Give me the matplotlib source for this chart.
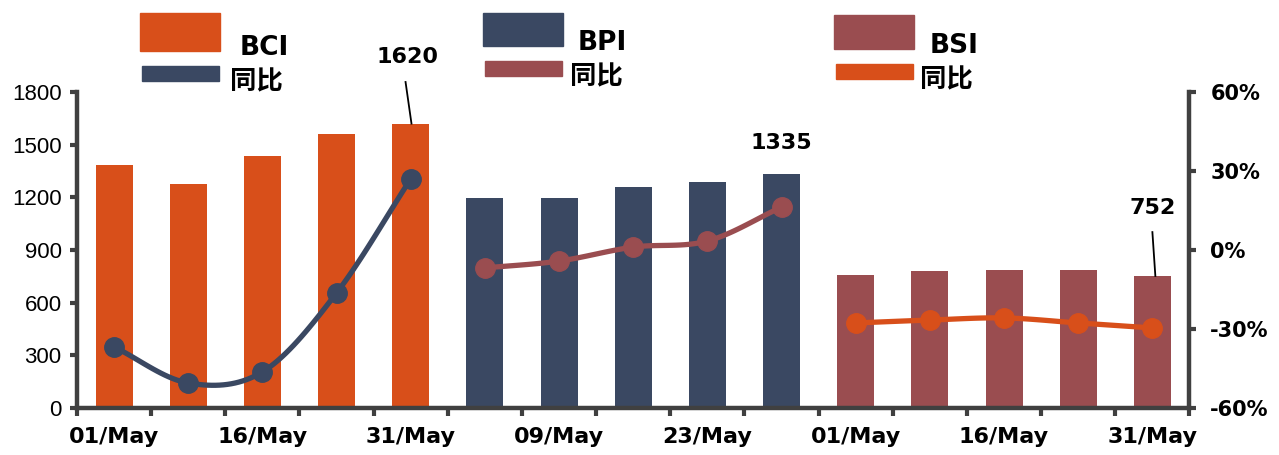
import numpy as np
import matplotlib.pyplot as plt
from matplotlib.patches import Rectangle

plt.rcParams['font.family'] = ['DejaVu Sans', 'Noto Sans CJK SC']

# data
groups = ['BCI', 'BPI', 'BSI']
bci = [1385, 1275, 1435, 1560, 1620]
bpi = [1195, 1195, 1258, 1287, 1335]
bsi = [757, 780, 786, 786, 752]
bci_yoy = [-36.8, -50.5, -46.3, -16.3, 27.0]
bpi_yoy = [-6.8, -4.2, 1.1, 3.4, 16.3]
bsi_yoy = [-27.7, -26.6, -25.8, -27.7, -29.6]
tick_pos = [0, 2, 4, 6, 8, 10, 12, 14]
tick_labels = ['01/May', '16/May', '31/May', '09/May', '23/May',
               '01/May', '16/May', '31/May']

orange = '#D84F1A'
navy = '#3A4862'
maroon = '#9A4D50'
spine = '#404040'


def smooth(x, y, n=20):
    # catmull-rom curve through the points, for drawing only
    x = np.asarray(x, float)
    y = np.asarray(y, float)
    px = np.concatenate([[2 * x[0] - x[1]], x, [2 * x[-1] - x[-2]]])
    py = np.concatenate([[2 * y[0] - y[1]], y, [2 * y[-1] - y[-2]]])
    xs, ys = [], []
    t = np.linspace(0, 1, n)
    for i in range(1, len(px) - 2):
        for p, out in ((px, xs), (py, ys)):
            p0, p1, p2, p3 = p[i - 1], p[i], p[i + 1], p[i + 2]
            out.extend(0.5 * (2 * p1 + (-p0 + p2) * t
                              + (2 * p0 - 5 * p1 + 4 * p2 - p3) * t ** 2
                              + (-p0 + 3 * p1 - 3 * p2 + p3) * t ** 3))
    return xs, ys


fig = plt.figure(figsize=(12.79, 4.55), dpi=100)
ax = fig.add_axes([0.0602, 0.1033, 0.8698, 0.6945])
ax2 = ax.twinx()

series = [(bci, bci_yoy, orange, navy),
          (bpi, bpi_yoy, navy, maroon),
          (bsi, bsi_yoy, maroon, orange)]
for k, (vals, yoy, bc, lc) in enumerate(series):
    x = np.arange(len(vals)) + 5 * k
    ax.bar(x, vals, width=0.5, color=bc, zorder=2)
    sx, sy = smooth(x, yoy)
    ax2.plot(sx, sy, color=lc, lw=3.8, zorder=3, solid_capstyle='round')
    ax2.plot(x, yoy, 'o', color=lc, ms=14, zorder=4)

ax.set_xlim(-0.5, 14.5)
ax.set_ylim(0, 1800)
ax.set_yticks(range(0, 1801, 300))
ax2.set_ylim(-60, 60)
ax2.set_yticks([-60, -30, 0, 30, 60])
ax2.set_yticklabels(['%d%%' % v for v in [-60, -30, 0, 30, 60]],
                    fontsize=15, fontweight='bold')
for lab in ax.get_yticklabels():
    lab.set_family('Liberation Sans')
    lab.set_fontsize(16)

ax.set_xticks(np.arange(-0.5, 15, 1))
ax.set_xticklabels([])
ax.set_xticks(tick_pos, tick_labels, minor=True)
ax.tick_params(axis='x', which='major', length=6, width=3, color=spine)
ax.tick_params(axis='x', which='minor', length=0, pad=14,
               labelsize=16)
for lab in ax.get_xticklabels(minor=True):
    lab.set_fontweight('bold')
ax.tick_params(axis='y', length=5, width=3, color=spine, pad=6)
ax2.tick_params(axis='y', length=5, width=3, color=spine, pad=10)

for a in (ax, ax2):
    a.spines['top'].set_visible(False)
    for s in ('left', 'right', 'bottom'):
        a.spines[s].set_linewidth(3.2)
        a.spines[s].set_color(spine)
ax.spines['right'].set_visible(False)
ax2.spines['left'].set_visible(False)
ax2.spines['bottom'].set_visible(False)

# value labels
lab_kw = dict(ha='center', va='center', fontsize=16, fontweight='bold',
              clip_on=False)
ax.text(3.96, bci[-1] + 380, str(bci[-1]), **lab_kw)
ax.plot([3.93, 4.01], [bci[-1] + 237, bci[-1]], color='black', lw=1.3,
        clip_on=False, zorder=5)
ax.text(9.0, bpi[-1] + 175, str(bpi[-1]), **lab_kw)
ax.text(14.0, bsi[-1] + 387, str(bsi[-1]), **lab_kw)
ax.plot([14.0, 14.04], [bsi[-1] + 250, bsi[-1]], color='black', lw=1.3,
        clip_on=False, zorder=5)

# legends, in pixel positions of the figure
W, H = 1279, 455
leg = [(groups[0], orange, navy, 140, 13, 51, 240, 230),
       (groups[1], navy, maroon, 483, 13, 46, 578, 570),
       (groups[2], maroon, orange, 834, 15, 49, 930, 920)]
for name, pc, lc, x0, y0, y1, tx, cx in leg:
    fig.add_artist(Rectangle((x0 / W, 1 - y1 / H), 80 / W, (y1 - y0) / H,
                             color=pc, transform=fig.transFigure))
    fig.add_artist(Rectangle(((x0 + 2) / W, 1 - (y1 + 30) / H), 77 / W,
                             15 / H, color=lc, transform=fig.transFigure))
    fig.text(tx / W, 1 - (y1 - 3) / H, name, ha='left', va='center',
             fontsize=19, fontweight='bold')
    fig.text(cx / W, 1 - (y1 + 31) / H, '同比', ha='left', va='center',
             fontsize=19, fontweight='bold',
             family=['Noto Sans CJK SC', 'DejaVu Sans'])

fig.savefig('out.png', dpi=100)
